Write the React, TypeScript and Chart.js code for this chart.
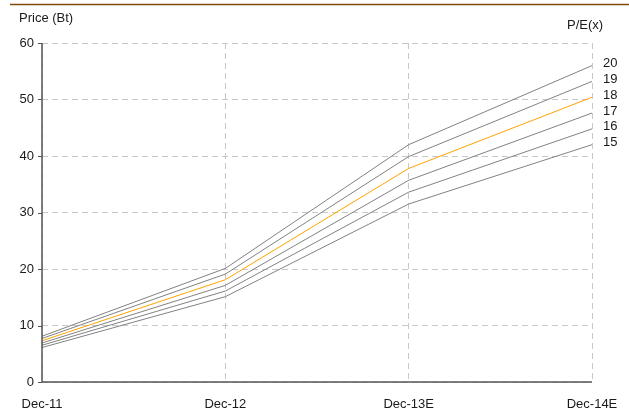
import React, { useEffect, useRef } from "react";
import { Chart, registerables } from "chart.js";

Chart.register(...registerables);

const categories = ["Dec-11", "Dec-12", "Dec-13E", "Dec-14E"];
const peLabels = ["20", "19", "18", "17", "16", "15"];
const pe20 = [8.1, 20.1, 42.0, 56.0];
const pe19 = [7.7, 19.1, 39.9, 53.2];
const pe18 = [7.3, 18.1, 37.8, 50.4];
const pe17 = [6.9, 17.1, 35.7, 47.6];
const pe16 = [6.5, 16.1, 33.6, 44.8];
const pe15 = [6.1, 15.1, 31.5, 42.0];
const yTicks = [0, 10, 20, 30, 40, 50, 60];

const FONT = "'Liberation Sans', Arial, sans-serif";

export default function App() {
  const ref = useRef<HTMLCanvasElement | null>(null);

  useEffect(() => {
    document.body.style.margin = "0";
    const canvas = ref.current!;
    const series = [pe20, pe19, pe18, pe17, pe16, pe15];
    const datasets = series.map((d, i) => ({
      label: peLabels[i],
      data: d,
      borderColor: peLabels[i] === "18" ? "#ffa200" : "#828282",
      borderWidth: 1,
      pointRadius: 0,
      tension: 0,
      fill: false,
      order: peLabels[i] === "18" ? 0 : 1,
    }));

    const overlay = {
      id: "overlay",
      afterDraw(chart: any) {
        const ctx = chart.ctx;
        const a = chart.chartArea;
        ctx.save();
        ctx.setLineDash([]);
        // axes
        ctx.strokeStyle = "#555555";
        ctx.lineWidth = 1.5;
        ctx.beginPath();
        ctx.moveTo(a.left, a.top);
        ctx.lineTo(a.left, a.bottom);
        ctx.lineTo(a.right, a.bottom);
        ctx.stroke();
        // y tick marks
        ctx.lineWidth = 1;
        const ys = chart.scales.y;
        ctx.beginPath();
        yTicks.forEach((v) => {
          const y = Math.round(ys.getPixelForValue(v)) + 0.5;
          ctx.moveTo(a.left - 4, y);
          ctx.lineTo(a.left, y);
        });
        ctx.stroke();
        // top rule
        ctx.strokeStyle = "#7f4a0c";
        ctx.lineWidth = 1.5;
        ctx.beginPath();
        ctx.moveTo(10, 4.5);
        ctx.lineTo(629, 4.5);
        ctx.stroke();
        ctx.fillStyle = "#1a1a1a";
        ctx.font = `13px ${FONT}`;
        ctx.textBaseline = "middle";
        ctx.textAlign = "left";
        ctx.fillText("Price (Bt)", 19, 18);
        ctx.fillText("P/E(x)", 567, 25);
        chart.data.datasets.forEach((ds: any, i: number) => {
          const meta = chart.getDatasetMeta(i);
          const pt = meta.data[meta.data.length - 1];
          ctx.fillText(ds.label, 603, pt.y - 2);
        });
        ctx.restore();
      },
    };

    const chart = new Chart(canvas, {
      type: "line",
      data: { labels: categories, datasets },
      options: {
        animation: false,
        responsive: false,
        maintainAspectRatio: false,
        events: [],
        layout: { padding: { top: 43, right: 37, left: 0, bottom: 0 } },
        plugins: { legend: { display: false }, tooltip: { enabled: false } },
        scales: {
          x: {
            offset: false,
            afterFit(scale: any) {
              scale.height = 27;
            },
            grid: {
              color: "#c8c8c8",
              drawTicks: true,
              tickLength: 12,
              tickColor: "rgba(0,0,0,0)",
              lineWidth: 1,
            } as any,
            border: { display: false, dash: [6, 4] } as any,
            ticks: {
              color: "#1a1a1a",
              font: { family: FONT, size: 13 },
              padding: 3,
              maxRotation: 0,
            },
          },
          y: {
            min: 0,
            max: 60,
            afterFit(scale: any) {
              scale.width = 42;
            },
            afterBuildTicks(scale: any) {
              scale.ticks = yTicks.map((v) => ({ value: v }));
            },
            grid: {
              color: "#c8c8c8",
              tickLength: 4,
              drawTicks: true,
              tickColor: "rgba(0,0,0,0)",
              lineWidth: 1,
            } as any,
            border: { display: false, dash: [6, 4] } as any,
            ticks: {
              color: "#1a1a1a",
              font: { family: FONT, size: 13 },
              padding: 4,
              stepSize: 10,
            },
          },
        },
      },
      plugins: [overlay],
    });
    return () => chart.destroy();
  }, []);

  return (
    <div style={{ position: "absolute", left: 0, top: 0, width: 629, height: 409 }}>
      <canvas ref={ref} width={629} height={409} style={{ display: "block" }} />
    </div>
  );
}
